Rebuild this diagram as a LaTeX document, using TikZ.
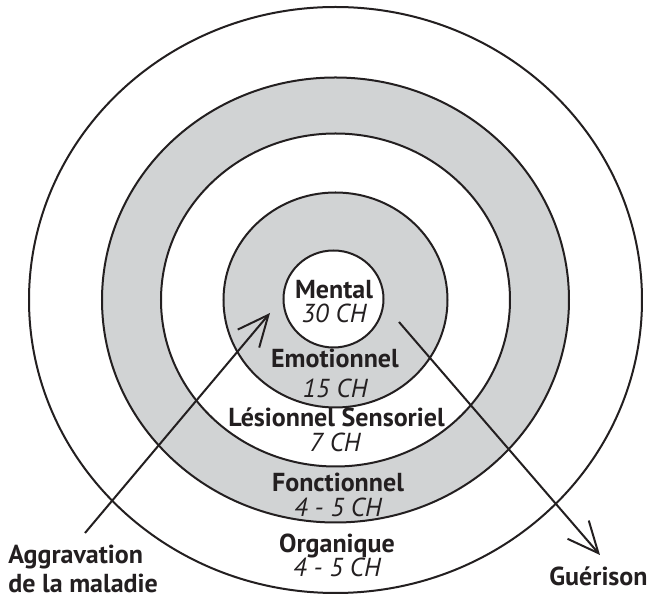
\documentclass[tikz,border=0pt]{standalone}
\usepackage{fontspec}
\setmainfont{PT Sans}
\usetikzlibrary{arrows.meta}
\definecolor{ringgray}{HTML}{D1D3D4}
\definecolor{ink}{HTML}{231F20}
\tikzset{
  ring/.style={draw=ink, line width=1pt},
  lbl/.style={anchor=base, inner sep=0pt, text=ink, font=\fontsize{13}{15}\selectfont\bfseries},
  val/.style={anchor=base, inner sep=0pt, text=ink, font=\fontsize{13}{15}\selectfont\itshape},
  arr/.style={draw=ink, line width=1pt, -{Straight Barb[length=15.5pt, width=14pt, line width=1pt]}}
}
\begin{document}
\begin{tikzpicture}[x=0.5pt, y=-0.5pt]
\useasboundingbox (0,0) rectangle (650,598);
\fill[white] (0,0) rectangle (650,598);
\coordinate (c) at (335.5,300);
\draw[ring, fill=white] (c) ellipse [x radius=306.5, y radius=293];
\draw[ring, fill=ringgray] (c) ellipse [x radius=233.5, y radius=222.5];
\draw[ring, fill=white] (c) ellipse [x radius=174.5, y radius=166.5];
\draw[ring, fill=ringgray] (c) ellipse [x radius=112, y radius=107.5];
\draw[ring, fill=white] (333.5,299) ellipse [x radius=50, y radius=48.5];

\coordinate (aggS) at (85,533);
\coordinate (aggE) at (270,313);
\draw[arr] (aggS) -- (aggE);
\coordinate (guS) at (399,322);
\coordinate (guE) at (600,555);
\draw[arr] (guS) -- (guE);

\node[lbl] (mental) at (334,299) {Mental};
\node[val] (mentalv) at (334,323) {30 CH};
\node[lbl] (emo) at (335,368) {Emotionnel};
\node[val] (emov) at (335,398) {15 CH};
\node[lbl] (les) at (336.5,427) {Lésionnel Sensoriel};
\node[val] (lesv) at (335,452) {7 CH};
\node[lbl] (fonc) at (338,492) {Fonctionnel};
\node[val] (foncv) at (338,517) {4 - 5 CH};
\node[lbl] (org) at (337,553) {Organique};
\node[val] (orgv) at (337,577) {4 - 5 CH};
\node[lbl, anchor=base west] (agg1) at (8,564) {Aggravation};
\node[lbl, anchor=base west] (agg2) at (8,593) {de la maladie};
\node[lbl, anchor=base east] (gue) at (648,586) {Guérison};
\end{tikzpicture}
\end{document}
